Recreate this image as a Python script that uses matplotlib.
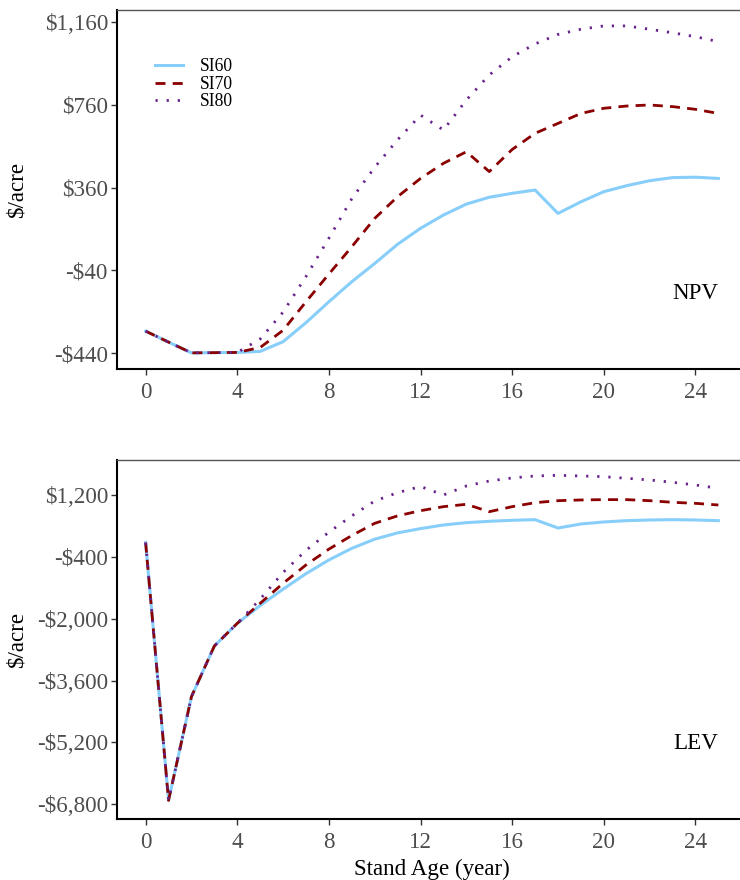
import matplotlib
matplotlib.use("Agg")
import matplotlib.pyplot as plt
from matplotlib.ticker import FuncFormatter

plt.rcParams['font.family'] = ['Liberation Serif', 'DejaVu Serif']

years = list(range(0, 26))

npv_si60 = [-334, -387, -439, -438, -437, -432, -385, -293, -192, -95, -7, 86, 163, 227,
            280, 313, 332, 348, 235, 291, 340, 369, 393, 408, 410, 404]
npv_si70 = [-334, -387, -439, -438, -437, -413, -330, -192, -58, 74, 211, 316, 404, 477,
            533, 437, 544, 622, 670, 718, 743, 754, 759, 751, 738, 718]
npv_si80 = [-334, -387, -439, -438, -437, -372, -242, -70, 115, 306, 458, 591, 710, 638,
            783, 904, 992, 1054, 1100, 1125, 1141, 1141, 1125, 1108, 1089, 1065]

lev_si60 = [-33, -6700, -4017, -2706, -2120, -1659, -1236, -835, -481, -180, 57, 220, 330, 424,
            484, 519, 545, 562, 346, 450, 502, 536, 553, 562, 553, 536]
lev_si70 = [-33, -6700, -4017, -2706, -2120, -1603, -1085, -610, -200, 152, 467, 661, 794, 898,
            959, 768, 898, 1001, 1053, 1071, 1080, 1080, 1053, 1010, 984, 941]
lev_si80 = [-33, -6700, -4017, -2706, -2120, -1495, -805, -232, 239, 660, 1045, 1260, 1420, 1200,
            1433, 1562, 1640, 1692, 1709, 1692, 1674, 1631, 1588, 1528, 1459, 1373]

series_names = ["SI60", "SI70", "SI80"]
x_ticks = [0, 4, 8, 12, 16, 20, 24]
npv_ticks = [-440, -40, 360, 760, 1160]
lev_ticks = [-6800, -5200, -3600, -2000, -400, 1200]

colors = ["#87CEFA", "#8B0000", "#68228B"]


def money(v, pos=None):
    v = int(round(v))
    s = "${:,}".format(abs(v))
    return "-" + s if v < 0 else s


fig = plt.figure(figsize=(7.4, 8.8), dpi=100)
ax1 = fig.add_axes([117 / 740, 1 - 369 / 880, 630 / 740, 359 / 880])
ax2 = fig.add_axes([117 / 740, 1 - 819 / 880, 630 / 740, 359 / 880])

FS = 16.6


def style(ax, ylim, yticks, label):
    ax.set_xlim(-1.25, 26.25)
    ax.set_ylim(*ylim)
    ax.set_xticks(x_ticks)
    ax.set_yticks(yticks)
    ax.yaxis.set_major_formatter(FuncFormatter(money))
    ax.tick_params(axis='both', labelsize=FS, labelcolor='#4D4D4D', color='#333333',
                   length=4, width=1.0)
    ax.tick_params(axis='y', pad=2.5)
    ax.tick_params(axis='x', pad=5.5)
    for side in ['left', 'bottom']:
        ax.spines[side].set_color('black')
        ax.spines[side].set_linewidth(1.5)
    ax.spines['top'].set_color('#555555')
    ax.spines['top'].set_linewidth(1.0)
    ax.spines['right'].set_visible(False)
    ax.set_ylabel("$/acre", fontsize=FS)
    ax.yaxis.set_label_coords(-0.142, 0.5)
    ax.text(25, ylim[0] + (ylim[1] - ylim[0]) * 0.21, label, fontsize=FS,
            ha='right', va='center')


def draw(ax, s1, s2, s3):
    l1, = ax.plot(years, s1, color=colors[0], lw=2.2, solid_joinstyle='round', label=series_names[0])
    l2, = ax.plot(years, s2, color=colors[1], lw=2.0, dashes=(3.6, 2.6), dash_capstyle='butt',
                  label=series_names[1])
    l3, = ax.plot(years, s3, color=colors[2], lw=2.0, dashes=(0.8, 3.2), dash_capstyle='butt',
                  label=series_names[2])
    return [l1, l2, l3]


handles = draw(ax1, npv_si60, npv_si70, npv_si80)
style(ax1, (-517, 1218), npv_ticks, "NPV")
draw(ax2, lev_si60, lev_si70, lev_si80)
style(ax2, (-7182, 2105), lev_ticks, "LEV")
ax2.set_xlabel("Stand Age (year)", fontsize=FS, labelpad=4)

ax1.legend(handles=handles, loc='upper left', bbox_to_anchor=(0.049, 0.885), frameon=False,
           fontsize=12.7, handlelength=1.6, handletextpad=0.97, labelspacing=0.02,
           borderaxespad=0)

fig.savefig("out.png", dpi=100)
